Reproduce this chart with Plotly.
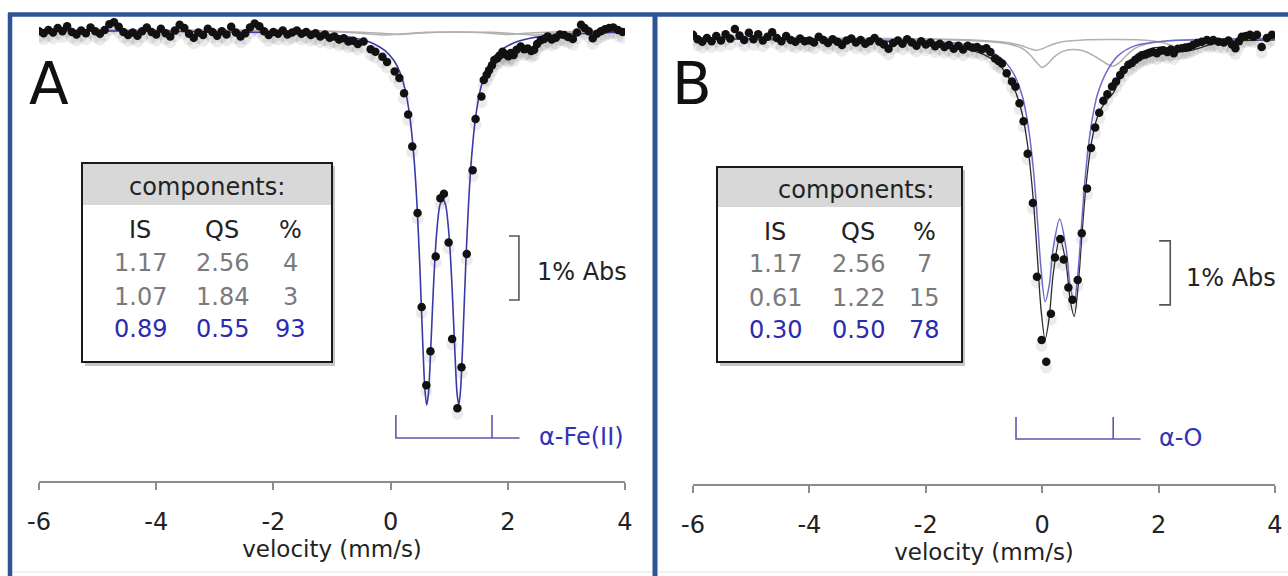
import plotly.graph_objects as go

W, H = 1288, 576


def px(x):
    return x / W


def py(y):
    return 1 - y / H


FONT = "DejaVu Sans"

# ---------------- Panel A data (velocity mm/s, absorption %) ----------------
velA = [-6.00, -5.92, -5.84, -5.76, -5.68, -5.60, -5.52, -5.44, -5.36, -5.28,
        -5.20, -5.12, -5.04, -4.96, -4.88, -4.80, -4.72, -4.64, -4.56, -4.48,
        -4.40, -4.32, -4.24, -4.16, -4.08, -4.00, -3.92, -3.84, -3.76, -3.68,
        -3.60, -3.52, -3.44, -3.36, -3.28, -3.20, -3.12, -3.04, -2.96, -2.88,
        -2.80, -2.72, -2.64, -2.56, -2.48, -2.40, -2.32, -2.24, -2.16, -2.08,
        -2.00, -1.92, -1.84, -1.76, -1.68, -1.60, -1.52, -1.44, -1.36, -1.28,
        -1.20, -1.12, -1.04, -0.96, -0.88, -0.80, -0.72, -0.64, -0.56, -0.46,
        -0.34, -0.26, -0.14, -0.06, 0.07, 0.15, 0.23, 0.30, 0.37, 0.46,
        0.53, 0.61, 0.68, 0.77, 0.85, 0.91, 0.99, 1.05, 1.14, 1.21,
        1.30, 1.40, 1.45, 1.55, 1.59, 1.64, 1.68, 1.73, 1.77, 1.82,
        1.86, 1.91, 1.96, 2.01, 2.05, 2.10, 2.15, 2.22, 2.28, 2.34,
        2.40, 2.45, 2.50, 2.56, 2.62, 2.68, 2.75, 2.82, 2.89, 2.96,
        3.03, 3.11, 3.18, 3.25, 3.31, 3.38, 3.45, 3.52, 3.59, 3.66,
        3.73, 3.80, 3.88, 3.96]
absA = [0.02, 0.05, 0.00, 0.04, -0.03, 0.02, -0.06, 0.03, 0.07, 0.01,
        0.05, -0.04, 0.02, 0.06, 0.00, -0.09, -0.12, -0.05, 0.03, 0.08,
        0.04, 0.09, 0.02, -0.04, 0.03, 0.07, -0.02, 0.05, 0.10, 0.01,
        -0.08, -0.03, 0.06, 0.12, 0.04, 0.08, -0.02, 0.03, 0.09, 0.02,
        0.07, -0.05, 0.04, 0.10, 0.05, -0.04, -0.10, -0.06, 0.02, 0.08,
        0.03, 0.06, 0.01, 0.07, 0.04, 0.01, 0.06, 0.03, 0.08, 0.05,
        0.10, 0.07, 0.12, 0.10, 0.15, 0.13, 0.18, 0.17, 0.22, 0.18,
        0.30, 0.34, 0.42, 0.50, 0.65, 0.75, 0.99, 1.32, 1.82, 2.86,
        4.33, 5.55, 5.02, 3.54, 2.63, 2.56, 3.32, 4.83, 5.91, 5.27,
        3.50, 2.19, 1.39, 1.04, 0.78, 0.70, 0.63, 0.55, 0.47, 0.44,
        0.40, 0.34, 0.38, 0.41, 0.36, 0.39, 0.31, 0.26, 0.30, 0.29,
        0.33, 0.31, 0.22, 0.16, 0.14, 0.10, 0.15, 0.12, 0.07, 0.08,
        0.11, 0.14, 0.04, -0.08, -0.03, 0.02, 0.13, 0.06, 0.02, -0.01,
        -0.03, -0.04, 0.00, 0.03]

fitA_vel = [-6.0, -4.0, -3.0, -2.0, -1.5, -1.0, -0.6, -0.3, -0.1, 0.05,
            0.15, 0.25, 0.33, 0.40, 0.45, 0.50, 0.55, 0.585, 0.615, 0.645,
            0.68, 0.73, 0.78, 0.84, 0.89, 0.94, 1.00, 1.05, 1.10, 1.135,
            1.165, 1.195, 1.23, 1.28, 1.33, 1.38, 1.45, 1.53, 1.63, 1.73,
            1.88, 2.08, 2.38, 2.78, 3.28, 3.78, 4.0]
fitA_abs = [0.01, 0.02, 0.03, 0.04, 0.055, 0.08, 0.13, 0.21, 0.32, 0.47,
            0.64, 0.94, 1.37, 2.01, 2.72, 3.72, 4.92, 5.61, 5.86, 5.69,
            5.09, 4.04, 3.24, 2.74, 2.64, 2.74, 3.24, 4.04, 5.09, 5.69,
            5.86, 5.61, 4.92, 3.72, 2.72, 2.01, 1.37, 0.94, 0.64, 0.47,
            0.32, 0.21, 0.13, 0.08, 0.055, 0.04, 0.035]

grayA1_vel = [-6.0, -2.0, -1.2, -0.7, -0.4, -0.11, 0.2, 0.6, 1.17, 1.75, 2.15, 2.45, 2.75, 3.2, 4.0]
grayA1_abs = [0.0, 0.01, 0.02, 0.04, 0.06, 0.08, 0.06, 0.035, 0.03, 0.035, 0.06, 0.08, 0.06, 0.03, 0.01]
grayA2_vel = [-6.0, -2.0, -1.0, -0.5, -0.15, 0.15, 0.45, 0.8, 1.07, 1.35, 1.7, 1.99, 2.3, 2.8, 4.0]
grayA2_abs = [0.0, 0.01, 0.02, 0.035, 0.05, 0.07, 0.05, 0.035, 0.032, 0.035, 0.05, 0.07, 0.05, 0.03, 0.01]

# ---------------- Panel B data ----------------
velB = [-6.00, -5.92, -5.84, -5.76, -5.68, -5.60, -5.52, -5.44, -5.36, -5.28,
        -5.20, -5.12, -5.04, -4.96, -4.88, -4.80, -4.72, -4.64, -4.56, -4.48,
        -4.40, -4.32, -4.24, -4.16, -4.08, -4.00, -3.92, -3.84, -3.76, -3.68,
        -3.60, -3.52, -3.44, -3.36, -3.28, -3.20, -3.12, -3.04, -2.96, -2.88,
        -2.80, -2.72, -2.64, -2.56, -2.48, -2.40, -2.32, -2.24, -2.16, -2.08,
        -2.00, -1.92, -1.84, -1.76, -1.68, -1.60, -1.52, -1.44, -1.36, -1.28,
        -1.20, -1.12, -1.04, -0.96, -0.89, -0.81, -0.75, -0.69, -0.61, -0.52,
        -0.46, -0.39, -0.32, -0.25, -0.16, -0.09, -0.01, 0.07, 0.15, 0.22,
        0.31, 0.37, 0.45, 0.52, 0.61, 0.68, 0.77, 0.84, 0.91, 0.98,
        1.05, 1.12, 1.20, 1.27, 1.34, 1.40, 1.48, 1.54, 1.60, 1.66,
        1.71, 1.77, 1.83, 1.90, 1.97, 2.03, 2.08, 2.15, 2.21, 2.26,
        2.33, 2.40, 2.46, 2.52, 2.59, 2.66, 2.74, 2.83, 2.89, 2.94,
        3.03, 3.12, 3.20, 3.26, 3.32, 3.38, 3.43, 3.50, 3.57, 3.63,
        3.69, 3.77, 3.86, 3.95]
absB = [-0.05, 0.02, 0.06, 0.00, 0.05, -0.03, 0.04, -0.06, 0.01, -0.14,
        -0.04, 0.03, -0.08, 0.02, -0.06, 0.04, -0.02, -0.09, 0.00, 0.05,
        -0.03, 0.03, 0.06, 0.01, 0.05, 0.04, 0.07, -0.02, 0.03, 0.08,
        0.02, 0.06, 0.11, 0.04, 0.01, 0.07, 0.03, 0.09, 0.05, 0.00,
        0.06, 0.10, 0.17, 0.08, 0.04, 0.09, 0.02, 0.07, 0.12, 0.05,
        0.10, 0.07, 0.13, 0.09, 0.14, 0.11, 0.17, 0.12, 0.18, 0.12,
        0.15, 0.14, 0.18, 0.16, 0.22, 0.32, 0.36, 0.40, 0.55, 0.68,
        0.76, 1.02, 1.30, 1.81, 2.58, 3.73, 4.72, 5.06, 4.31, 3.43,
        3.14, 3.46, 3.90, 4.09, 3.78, 3.05, 2.35, 1.72, 1.40, 1.17,
        0.98, 0.88, 0.76, 0.68, 0.58, 0.50, 0.42, 0.39, 0.34, 0.30,
        0.27, 0.26, 0.24, 0.22, 0.24, 0.20, 0.19, 0.22, 0.18, 0.24,
        0.17, 0.16, 0.15, 0.14, 0.11, 0.08, 0.06, 0.03, 0.05, 0.03,
        0.06, 0.07, 0.04, 0.10, 0.16, 0.05, -0.02, -0.03, -0.05, -0.02,
        -0.05, 0.14, 0.00, -0.05]

fitB_vel = [-6.0, -4.0, -3.0, -2.0, -1.5, -1.0, -0.7, -0.5, -0.35, -0.25,
            -0.15, -0.08, -0.02, 0.05, 0.12, 0.19, 0.30, 0.41, 0.48, 0.55,
            0.62, 0.68, 0.75, 0.85, 0.95, 1.10, 1.30, 1.60, 2.10, 2.60, 3.60, 4.0]
fitB_abs = [0.01, 0.02, 0.03, 0.05, 0.08, 0.17, 0.32, 0.54, 0.88, 1.32,
            2.07, 2.87, 3.61, 4.12, 3.87, 3.28, 2.83, 3.28, 3.87, 4.12,
            3.61, 2.87, 2.07, 1.32, 0.88, 0.54, 0.28, 0.12, 0.05, 0.03, 0.015, 0.01]

totB_vel = [-6.0, -4.0, -3.0, -2.0, -1.5, -1.0, -0.7, -0.5, -0.35, -0.25,
            -0.15, -0.08, -0.02, 0.05, 0.12, 0.19, 0.30, 0.41, 0.48, 0.55,
            0.62, 0.68, 0.75, 0.85, 0.95, 1.10, 1.22, 1.35, 1.60, 1.85,
            2.10, 2.30, 2.45, 2.65, 2.90, 3.30, 4.0]
totB_abs = [0.015, 0.03, 0.045, 0.09, 0.14, 0.26, 0.46, 0.75, 1.16, 1.68,
            2.56, 3.46, 4.24, 4.71, 4.37, 3.68, 3.13, 3.52, 4.09, 4.35,
            3.85, 3.11, 2.33, 1.62, 1.23, 0.98, 0.86, 0.62, 0.31, 0.17,
            0.15, 0.19, 0.21, 0.17, 0.10, 0.05, 0.03]

grayB1_vel = [-6.0, -3.0, -2.0, -1.2, -0.7, -0.4, -0.2, -0.11, 0.0, 0.15, 0.35, 0.7,
              1.2, 1.7, 2.0, 2.2, 2.35, 2.45, 2.55, 2.75, 3.0, 3.4, 4.0]
grayB1_abs = [0.002, 0.008, 0.015, 0.03, 0.06, 0.11, 0.17, 0.19, 0.17, 0.11, 0.06, 0.03,
              0.025, 0.03, 0.06, 0.11, 0.17, 0.19, 0.17, 0.11, 0.06, 0.03, 0.012]
grayB2_vel = [-6.0, -3.0, -2.0, -1.5, -1.0, -0.6, -0.35, -0.2, -0.1, 0.0, 0.1, 0.2, 0.35,
              0.53, 0.7, 0.87, 1.0, 1.12, 1.22, 1.32, 1.45, 1.6, 1.8, 2.1, 2.6, 3.0, 4.0]
grayB2_abs = [0.003, 0.01, 0.02, 0.03, 0.05, 0.09, 0.16, 0.27, 0.38, 0.46, 0.40, 0.30, 0.21,
              0.18, 0.20, 0.27, 0.34, 0.41, 0.44, 0.39, 0.27, 0.16, 0.09, 0.05, 0.025, 0.015, 0.007]

# ---------------- tables / labels ----------------
table_cols = ["IS", "QS", "%"]
tableA_IS = ["1.17", "1.07", "0.89"]
tableA_QS = ["2.56", "1.84", "0.55"]
tableA_pct = ["4", "3", "93"]
tableB_IS = ["1.17", "0.61", "0.30"]
tableB_QS = ["2.56", "1.22", "0.50"]
tableB_pct = ["7", "15", "78"]
row_colors = ["#7a7a7a", "#7a7a7a", "#2b2bb0"]

stickA_lines = [0.09, 1.73]
stickA_end = 2.2
stickA_label = "α-Fe(II)"
stickB_lines = [-0.45, 1.22]
stickB_end = 1.69
stickB_label = "α-O"

tick_vals = [-6, -4, -2, 0, 2, 4]
tick_text = ["-6", "-4", "-2", "0", "2", "4"]

# ---------------- styles ----------------
DOT = dict(size=8.5, color="#111111")
SHADOW = dict(size=12, color="rgba(0,0,0,0.08)")
SHADOW_OFF = 0.09
GRAY = dict(color="#b0b0b0", width=1.5)

fig = go.Figure()


def add_panel(xa, ya, vel, ab, curves):
    fig.add_trace(go.Scatter(x=vel, y=[a + SHADOW_OFF for a in ab], mode="markers",
                             marker=SHADOW, xaxis=xa, yaxis=ya, hoverinfo="skip"))
    for cv, ca, style in curves:
        fig.add_trace(go.Scatter(x=cv, y=ca, mode="lines", line=dict(shape="spline", smoothing=0.8, **style),
                                 xaxis=xa, yaxis=ya, hoverinfo="skip"))
    fig.add_trace(go.Scatter(x=vel, y=ab, mode="markers", marker=DOT, xaxis=xa, yaxis=ya))


add_panel("x", "y", velA, absA, [
    (grayA1_vel, grayA1_abs, GRAY),
    (grayA2_vel, grayA2_abs, GRAY),
    (fitA_vel, fitA_abs, dict(color="#3a3aa6", width=1.6)),
])
add_panel("x2", "y2", velB, absB, [
    (grayB1_vel, grayB1_abs, GRAY),
    (grayB2_vel, grayB2_abs, GRAY),
    (totB_vel, totB_abs, dict(color="#2a2a2a", width=1.3)),
    (fitB_vel, fitB_abs, dict(color="#6b6bcc", width=1.5)),
])

xcommon = dict(range=[-6, 4], tickvals=tick_vals, ticktext=tick_text, showline=True,
               linecolor="#8c8c8c", linewidth=2, ticks="outside", ticklen=7, tickwidth=2,
               tickcolor="#8c8c8c", tickfont=dict(family=FONT, size=24, color="#222"),
               ticklabelstandoff=11, showgrid=False, zeroline=False, automargin=False,
               title=dict(text="velocity (mm/s)", font=dict(family=FONT, size=23, color="#222"), standoff=4))

fig.update_layout(
    width=W, height=H, margin=dict(l=0, r=0, t=0, b=0),
    paper_bgcolor="white", plot_bgcolor="rgba(0,0,0,0)", showlegend=False,
    xaxis=dict(domain=[px(39), px(625)], anchor="y", **xcommon),
    yaxis=dict(domain=[py(481), py(15)], range=[7.047, -0.234], visible=False, anchor="x"),
    xaxis2=dict(domain=[px(693), px(1275)], anchor="y2", **xcommon),
    yaxis2=dict(domain=[py(484), py(15)], range=[6.969, -0.359], visible=False, anchor="x2"),
)

shapes = []
ann = []
BORDER = "#2f5496"
# panel borders
shapes.append(dict(type="line", xref="paper", yref="paper", x0=px(10), x1=px(10), y0=py(13), y1=py(580),
                   line=dict(color=BORDER, width=4.5)))
shapes.append(dict(type="line", xref="paper", yref="paper", x0=px(8), x1=px(1290), y0=py(14.5), y1=py(14.5),
                   line=dict(color=BORDER, width=4.5)))
shapes.append(dict(type="line", xref="paper", yref="paper", x0=px(655), x1=px(655), y0=py(13), y1=py(580),
                   line=dict(color=BORDER, width=5)))
shapes.append(dict(type="line", xref="paper", yref="paper", x0=px(13), x1=px(652), y0=py(572), y1=py(572),
                   line=dict(color="#e2e2e2", width=1)))
shapes.append(dict(type="line", xref="paper", yref="paper", x0=px(658), x1=px(1288), y0=py(572), y1=py(572),
                   line=dict(color="#e2e2e2", width=1)))


def txt(text, x, y, size, color, xref="paper", yref="paper", xanchor="center"):
    return dict(text=text, xref=xref, yref=yref, x=x, y=y, xanchor=xanchor, yanchor="middle",
                showarrow=False, font=dict(family=FONT, size=size, color=color))


def add_table(x0, x1, y0, y1, yh, title_x, title_y, cols_x, rows_y, IS, QS, pct):
    shapes.append(dict(type="rect", xref="paper", yref="paper", x0=px(x0 + 3), x1=px(x1 + 3), y0=py(y0 + 3), y1=py(y1 + 4),
                       fillcolor="rgba(0,0,0,0.22)", line=dict(width=0)))
    shapes.append(dict(type="rect", xref="paper", yref="paper", x0=px(x0), x1=px(x1), y0=py(y0), y1=py(y1),
                       fillcolor="white", line=dict(width=0)))
    shapes.append(dict(type="rect", xref="paper", yref="paper", x0=px(x0), x1=px(x1), y0=py(y0), y1=py(yh),
                       fillcolor="#d8d8d8", line=dict(width=0)))
    shapes.append(dict(type="rect", xref="paper", yref="paper", x0=px(x0), x1=px(x1), y0=py(y0), y1=py(y1),
                       fillcolor="rgba(0,0,0,0)", line=dict(color="#1a1a1a", width=2)))
    ann.append(txt("components:", px(title_x), py(title_y), 24, "#222"))
    for c, cx in zip(table_cols, cols_x):
        ann.append(txt(c, px(cx), py(rows_y[0]), 24, "#222"))
    for i in range(3):
        for val, cx in zip([IS[i], QS[i], pct[i]], cols_x):
            ann.append(txt(val, px(cx), py(rows_y[i + 1]), 24, row_colors[i]))


add_table(82, 332, 163, 362, 205, 207, 187, [140, 222, 290], [230, 263, 297, 329],
          tableA_IS, tableA_QS, tableA_pct)
add_table(717, 962, 167, 362, 207, 856, 190, [775, 858, 924], [232, 264, 298, 330],
          tableB_IS, tableB_QS, tableB_pct)

# 1% Abs scale bars (data units)
for xr, yr, xv0, xv1, yv0, tx, ty in [("x", "y", 2.02, 2.19, 3.22, 2.46, 3.78),
                                      ("x2", "y2", 2.01, 2.20, 3.17, 2.44, 3.75)]:
    shapes.append(dict(type="path", xref=xr, yref=yr,
                       path=f"M {xv0},{yv0} L {xv1},{yv0} L {xv1},{yv0 + 1} L {xv0},{yv0 + 1}",
                       line=dict(color="#555", width=1.6)))
    ann.append(txt("1% Abs", tx, ty, 24, "#222", xref=xr, yref=yr, xanchor="left"))

# stick diagrams
for xr, lines, end, label, ytop, ybase, lx in [("x", stickA_lines, stickA_end, stickA_label, 415, 438, 2.50),
                                               ("x2", stickB_lines, stickB_end, stickB_label, 417, 439, 1.98)]:
    p = f"M {lines[0]},{py(ytop)} L {lines[0]},{py(ybase)} L {end},{py(ybase)} M {lines[1]},{py(ytop)} L {lines[1]},{py(ybase)}"
    shapes.append(dict(type="path", xref=xr, yref="paper", path=p, line=dict(color="#5a5ab0", width=1.6)))
    ann.append(txt(label, lx, py(ybase - 1), 24, "#3232b8", xref=xr, xanchor="left"))

# panel letters
ann.append(txt("A", px(49), py(84), 58, "#111"))
ann.append(txt("B", px(692), py(84), 58, "#111"))

fig.update_layout(shapes=shapes, annotations=ann)
fig.write_html("out.html")
